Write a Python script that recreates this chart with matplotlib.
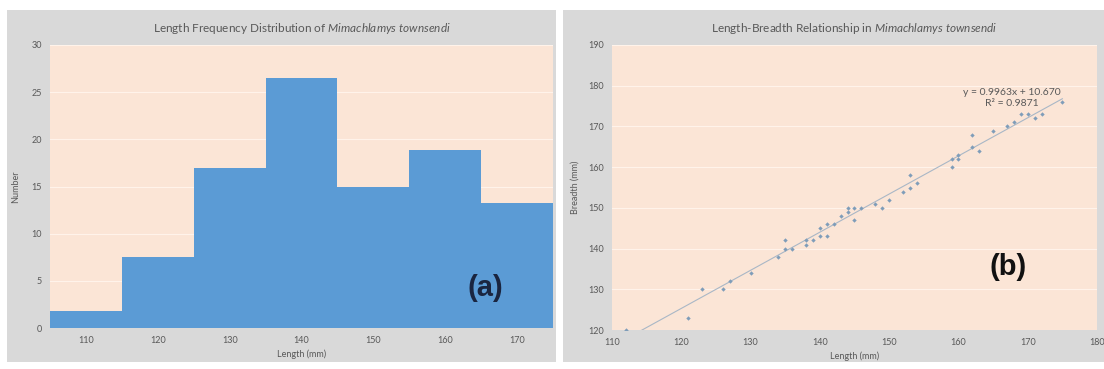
import numpy as np
import matplotlib
matplotlib.use("Agg")
import matplotlib.pyplot as plt
from matplotlib.patches import Rectangle

plt.rcParams['font.family'] = ['Lato', 'DejaVu Sans']
plt.rcParams['mathtext.fontset'] = 'custom'
plt.rcParams['mathtext.rm'] = 'Lato'
plt.rcParams['mathtext.it'] = 'Lato:italic'

# (a) length frequency histogram
bin_centres = [110, 120, 130, 140, 150, 160, 170]
counts = [1.8, 7.5, 17.0, 26.5, 15.0, 18.9, 13.2]

# (b) length vs breadth
length_mm = [112, 121, 123, 126, 127, 130, 134, 135, 135, 136, 138, 138, 139, 140, 140,
             141, 141, 142, 143, 144, 144, 145, 145, 146, 148, 149, 150, 152, 153, 153,
             154, 159, 159, 160, 160, 162, 162, 163, 165, 167, 168, 169, 170, 171, 172, 175]
breadth_mm = [120, 123, 130, 130, 132, 134, 138, 142, 140, 140, 141, 142, 142, 145, 143,
              143, 146, 146, 148, 150, 149, 150, 147, 150, 151, 150, 152, 154, 155, 158,
              156, 160, 162, 162, 163, 165, 168, 164, 169, 170, 171, 173, 173, 172, 173, 176]
eq_text = "y = 0.9963x + 10.670\nR² = 0.9871"

peach = '#FBE5D6'
panel_grey = '#D9D9D9'
bar_blue = '#5B9BD5'
text_grey = '#595959'

fig = plt.figure(figsize=(11.04, 3.69), dpi=100)
fig.patch.set_facecolor('white')

# grey chart-area panels
fig.add_artist(Rectangle((7 / 1104, 1 - 362 / 369), 549 / 1104, 352 / 369,
                         transform=fig.transFigure, facecolor=panel_grey, edgecolor='none', zorder=0))
fig.add_artist(Rectangle((563 / 1104, 1 - 362 / 369), 541 / 1104, 352 / 369,
                         transform=fig.transFigure, facecolor=panel_grey, edgecolor='none', zorder=0))

ax1 = fig.add_axes([50 / 1104, 1 - 328 / 369, 503 / 1104, 283 / 369])
ax2 = fig.add_axes([612 / 1104, 1 - 330 / 369, 485 / 1104, 285 / 369])

for ax in (ax1, ax2):
    ax.set_facecolor(peach)
    for s in ax.spines.values():
        s.set_visible(False)
    ax.tick_params(axis='both', labelsize=6.5, colors=text_grey, length=0, pad=6)
    ax.grid(axis='y', color='#FFF3EA', linewidth=0.8)
    ax.set_axisbelow(True)

# histogram
ax1.bar(bin_centres, counts, width=10, color=bar_blue, edgecolor='none', zorder=2)
ax1.set_xlim(105, 175)
ax1.set_ylim(0, 30)
ax1.set_xticks(bin_centres)
ax1.set_yticks(range(0, 31, 5))
ax1.set_xlabel('Length (mm)', fontsize=6.5, color=text_grey, labelpad=3)
ax1.set_ylabel('Number', fontsize=6.5, color=text_grey, labelpad=8)
ax1.set_title(r'Length Frequency Distribution of $\mathit{Mimachlamys\ townsendi}$',
              fontsize=8.5, color=text_grey, pad=9)
ax1.text(0.865, 0.14, '(a)', transform=ax1.transAxes, fontsize=21, fontweight='bold',
         color='#1A2540', ha='center', va='center', zorder=3, family='Liberation Sans')

# scatter with linear trendline
ax2.scatter(length_mm, breadth_mm, s=5, marker='D', color='#7F9DB9', zorder=3, linewidths=0)
slope, intercept = np.polyfit(length_mm, breadth_mm, 1)
xs = np.array([min(length_mm), max(length_mm)])
ax2.plot(xs, slope * xs + intercept, color='#A9B7C6', linewidth=0.8, zorder=2)
ax2.set_xlim(110, 180)
ax2.set_ylim(120, 190)
ax2.set_xticks(range(110, 181, 10))
ax2.set_yticks(range(120, 191, 10))
ax2.set_xlabel('Length (mm)', fontsize=6.5, color=text_grey, labelpad=3)
ax2.set_ylabel('Breadth (mm)', fontsize=6.5, color=text_grey, labelpad=6)
ax2.set_title(r'Length-Breadth Relationship in $\mathit{Mimachlamys\ townsendi}$',
              fontsize=8.5, color=text_grey, pad=9)
ax2.text(0.825, 0.814, eq_text, transform=ax2.transAxes, fontsize=7.5, color=text_grey,
         ha='center', va='center', linespacing=1.2)
ax2.text(0.816, 0.22, '(b)', transform=ax2.transAxes, fontsize=21, fontweight='bold',
         color='#111111', ha='center', va='center', family='Liberation Sans')

plt.savefig('out.png', dpi=100)
